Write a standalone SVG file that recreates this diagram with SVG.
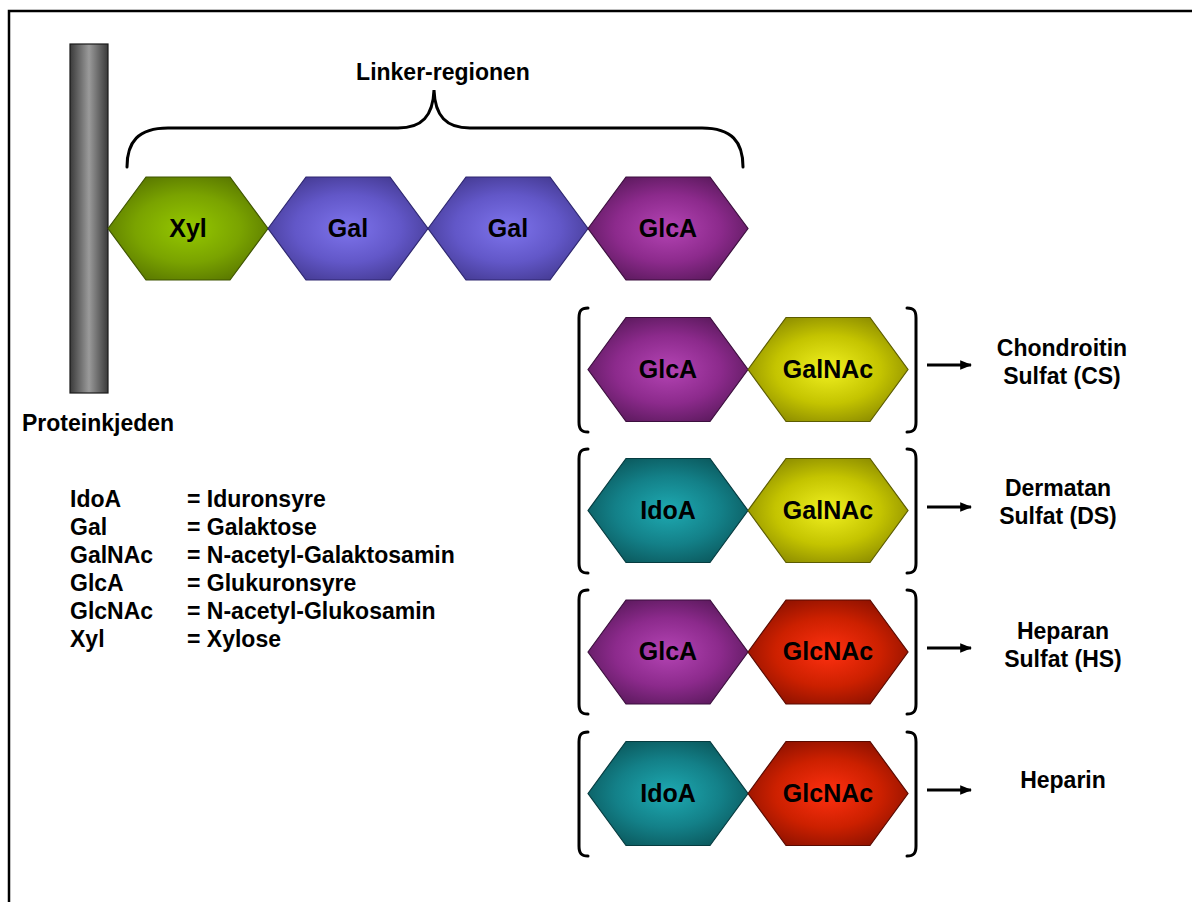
<svg xmlns="http://www.w3.org/2000/svg" width="1192" height="902" viewBox="0 0 1192 902">
<style>
text{font-family:"Liberation Sans",Arial,sans-serif;font-weight:bold;fill:#000}
.lbl{font-size:23px}
.hl{font-size:25px;text-anchor:middle}
.rt{font-size:23px;text-anchor:middle}
.hex{stroke-width:1.2}
.xyl{fill:url(#gXyl);stroke:#3f5500}
.gal{fill:url(#gGal);stroke:#2e2770}
.glca{fill:url(#gGlcA);stroke:#3c0f3e}
.galnac{fill:url(#gGalNAc);stroke:#5c5c00}
.idoa{fill:url(#gIdoA);stroke:#063c40}
.glcnac{fill:url(#gGlcNAc);stroke:#5a0a00}
.br{fill:none;stroke:#000;stroke-width:3;stroke-linecap:round}
.arr{fill:none;stroke:#000;stroke-width:3}
</style>
<defs>
<radialGradient id="gXyl" cx="50%" cy="50%" r="60%"><stop offset="0" stop-color="#95c800"/><stop offset="0.55" stop-color="#7aa300"/><stop offset="1" stop-color="#557200"/></radialGradient>
<radialGradient id="gGal" cx="50%" cy="50%" r="60%"><stop offset="0" stop-color="#7e74ec"/><stop offset="0.55" stop-color="#6257c8"/><stop offset="1" stop-color="#42388e"/></radialGradient>
<radialGradient id="gGlcA" cx="50%" cy="50%" r="60%"><stop offset="0" stop-color="#b444b4"/><stop offset="0.55" stop-color="#8c2a8c"/><stop offset="1" stop-color="#561858"/></radialGradient>
<radialGradient id="gGalNAc" cx="50%" cy="50%" r="60%"><stop offset="0" stop-color="#f0f020"/><stop offset="0.55" stop-color="#c4c400"/><stop offset="1" stop-color="#868600"/></radialGradient>
<radialGradient id="gIdoA" cx="50%" cy="50%" r="60%"><stop offset="0" stop-color="#1eaab2"/><stop offset="0.55" stop-color="#138088"/><stop offset="1" stop-color="#0a5458"/></radialGradient>
<radialGradient id="gGlcNAc" cx="50%" cy="50%" r="60%"><stop offset="0" stop-color="#ff3010"/><stop offset="0.55" stop-color="#cc2000"/><stop offset="1" stop-color="#861000"/></radialGradient>
<linearGradient id="gBar" x1="0" y1="0" x2="1" y2="0"><stop offset="0" stop-color="#3a3a3a"/><stop offset="0.5" stop-color="#9a9a9a"/><stop offset="1" stop-color="#3a3a3a"/></linearGradient>
<marker id="ah" viewBox="0 0 10 10" refX="9" refY="5" markerWidth="4" markerHeight="4" orient="auto" markerUnits="strokeWidth"><path d="M0,1 L10,5 L0,9 z" fill="#000"/></marker>
</defs>
<rect width="1192" height="902" fill="#fff"/>
<path d="M9,902 L9,11 L1192,11" fill="none" stroke="#000" stroke-width="2.5"/>

<g id="protein-chain">
<rect x="70" y="44" width="38" height="349" fill="url(#gBar)" stroke="#1a1a1a" stroke-width="1.2"/>
<text class="lbl" x="22" y="431">Proteinkjeden</text>
</g>

<g id="linker-brace">
<path class="br" d="M127,167 C127,142 138,128 168,128 L398,128 C422,128 433,116 434,90 C435,116 446,128 470,128 L702,128 C732,128 743,142 743,167"/>
<text class="lbl" x="443" y="80" text-anchor="middle">Linker-regionen</text>
</g>

<g id="linker-xyl"><polygon class="hex xyl" points="108,228.5 146,177 230,177 268,228.5 230,280 146,280"/><text class="hl" x="188" y="237">Xyl</text></g>
<g id="linker-gal1"><polygon class="hex gal" points="268,228.5 306,177 390,177 428,228.5 390,280 306,280"/><text class="hl" x="348" y="237">Gal</text></g>
<g id="linker-gal2"><polygon class="hex gal" points="428,228.5 466,177 550,177 588,228.5 550,280 466,280"/><text class="hl" x="508" y="237">Gal</text></g>
<g id="linker-glca"><polygon class="hex glca" points="588,228.5 626,177 710,177 748,228.5 710,280 626,280"/><text class="hl" x="668" y="237">GlcA</text></g>

<g id="legend">
<text class="lbl" x="70" y="507">IdoA</text><text class="lbl" x="187" y="507">= Iduronsyre</text>
<text class="lbl" x="70" y="535">Gal</text><text class="lbl" x="187" y="535">= Galaktose</text>
<text class="lbl" x="70" y="563">GalNAc</text><text class="lbl" x="187" y="563">= N-acetyl-Galaktosamin</text>
<text class="lbl" x="70" y="591">GlcA</text><text class="lbl" x="187" y="591">= Glukuronsyre</text>
<text class="lbl" x="70" y="619">GlcNAc</text><text class="lbl" x="187" y="619">= N-acetyl-Glukosamin</text>
<text class="lbl" x="70" y="647">Xyl</text><text class="lbl" x="187" y="647">= Xylose</text>
</g>

<!-- Row 1: CS -->
<g id="cs-glca"><polygon class="hex glca" points="588,369.5 626,317.5 710,317.5 748,369.5 710,421.5 626,421.5"/><text class="hl" x="668" y="378">GlcA</text></g>
<g id="cs-galnac"><polygon class="hex galnac" points="748,369.5 786,317.5 870,317.5 908,369.5 870,421.5 786,421.5"/><text class="hl" x="828" y="378">GalNAc</text></g>
<g id="cs-label"><text class="rt" x="1062" y="356">Chondroitin</text><text class="rt" x="1062" y="384">Sulfat (CS)</text></g>

<!-- Row 2: DS -->
<g id="ds-idoa"><polygon class="hex idoa" points="588,510.5 626,458.5 710,458.5 748,510.5 710,562.5 626,562.5"/><text class="hl" x="668" y="519">IdoA</text></g>
<g id="ds-galnac"><polygon class="hex galnac" points="748,510.5 786,458.5 870,458.5 908,510.5 870,562.5 786,562.5"/><text class="hl" x="828" y="519">GalNAc</text></g>
<g id="ds-label"><text class="rt" x="1058" y="496">Dermatan</text><text class="rt" x="1058" y="524">Sulfat (DS)</text></g>

<!-- Row 3: HS -->
<g id="hs-glca"><polygon class="hex glca" points="588,652 626,600 710,600 748,652 710,704 626,704"/><text class="hl" x="668" y="660">GlcA</text></g>
<g id="hs-glcnac"><polygon class="hex glcnac" points="748,652 786,600 870,600 908,652 870,704 786,704"/><text class="hl" x="828" y="660">GlcNAc</text></g>
<g id="hs-label"><text class="rt" x="1063" y="639">Heparan</text><text class="rt" x="1063" y="667">Sulfat (HS)</text></g>

<!-- Row 4: Heparin -->
<g id="hep-idoa"><polygon class="hex idoa" points="588,793.5 626,741.5 710,741.5 748,793.5 710,845.5 626,845.5"/><text class="hl" x="668" y="802">IdoA</text></g>
<g id="hep-glcnac"><polygon class="hex glcnac" points="748,793.5 786,741.5 870,741.5 908,793.5 870,845.5 786,845.5"/><text class="hl" x="828" y="802">GlcNAc</text></g>
<g id="hep-label"><text class="rt" x="1063" y="788">Heparin</text></g>

<g id="brackets">
<path class="br" d="M588,308 C581,308 579,311 579,318 L579,422 C579,429 581,432 588,432"/>
<path class="br" d="M907,308 C914,308 916,311 916,318 L916,422 C916,429 914,432 907,432"/>
<path class="br" d="M588,449 C581,449 579,452 579,459 L579,563 C579,570 581,573 588,573"/>
<path class="br" d="M907,449 C914,449 916,452 916,459 L916,563 C916,570 914,573 907,573"/>
<path class="br" d="M588,590 C581,590 579,593 579,600 L579,704 C579,711 581,714 588,714"/>
<path class="br" d="M907,590 C914,590 916,593 916,600 L916,704 C916,711 914,714 907,714"/>
<path class="br" d="M588,732 C581,732 579,735 579,742 L579,846 C579,853 581,856 588,856"/>
<path class="br" d="M907,732 C914,732 916,735 916,742 L916,846 C916,853 914,856 907,856"/>
</g>

<g id="connectors">
<line class="arr" x1="927" y1="365" x2="971" y2="365" marker-end="url(#ah)"/>
<line class="arr" x1="927" y1="507" x2="971" y2="507" marker-end="url(#ah)"/>
<line class="arr" x1="927" y1="648" x2="971" y2="648" marker-end="url(#ah)"/>
<line class="arr" x1="927" y1="790" x2="971" y2="790" marker-end="url(#ah)"/>
</g>
</svg>
